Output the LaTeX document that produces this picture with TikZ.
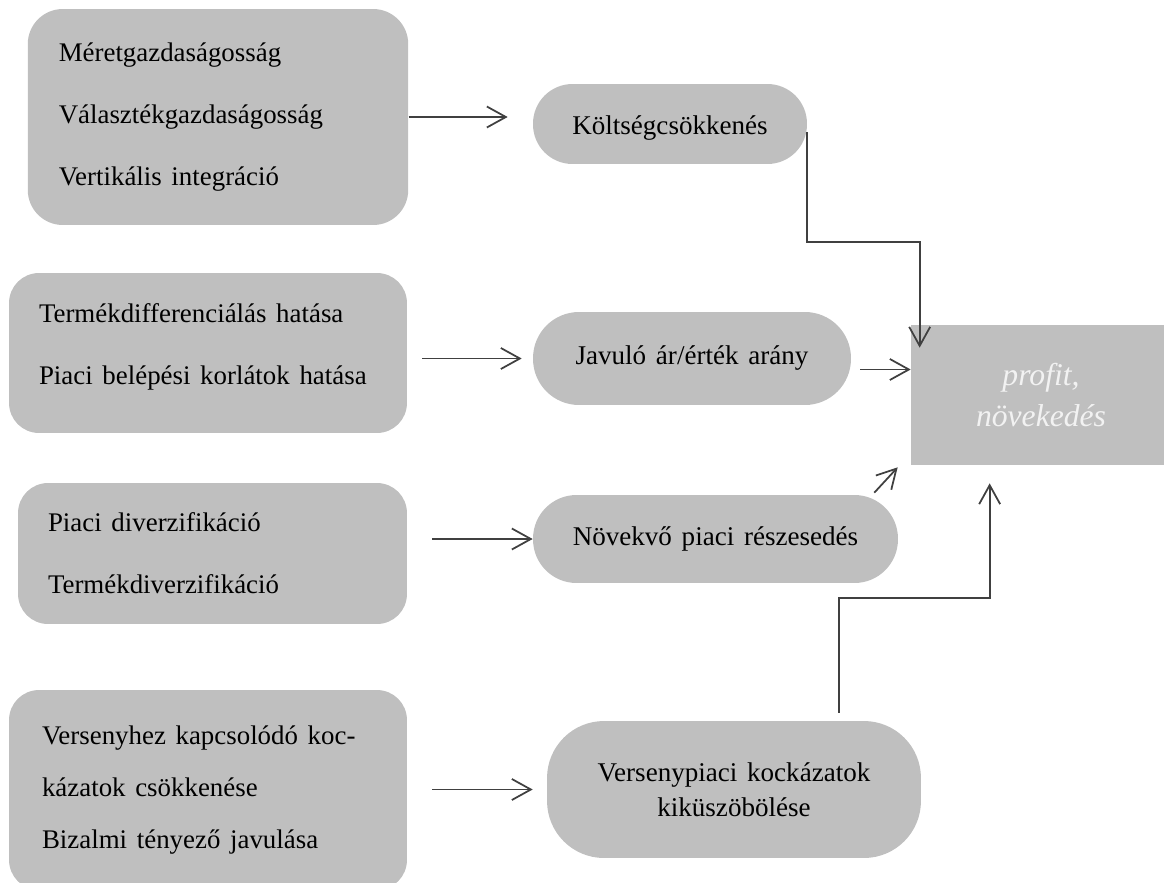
\documentclass[tikz,border=0pt]{standalone}
\usepackage{fontspec}
\setmainfont{Liberation Serif}
\usetikzlibrary{arrows.meta}
\definecolor{boxgray}{HTML}{BFBFBF}
\definecolor{linegray}{HTML}{404040}
\definecolor{txtlight}{HTML}{F2F2F2}
\newcommand{\wide}{\spaceskip=0.36em plus 0.1em\relax}

\begin{document}
\begin{tikzpicture}[x=0.02cm, y=-0.02cm,
		srcbox/.style={fill=boxgray, rounded corners=0.6cm, align=flush left, inner sep=0pt,
			font=\fontsize{15.3}{35.3}\selectfont\wide},
		pill/.style={fill=boxgray, align=center, inner sep=0pt,
			font=\fontsize{15.4}{20}\selectfont\wide},
		arr/.style={draw=linegray, line width=1pt,
			-{Straight Barb[length=0.38cm, width=0.42cm]}}]
	\useasboundingbox (0,0) rectangle (1164,883);
	\clip (0,0) rectangle (1164,883);
	% causes
	\node[srcbox, rounded corners=0.7cm, minimum width=7.61cm, minimum height=4.32cm, text width=6.37cm] (src1) at (218,117)
		{Méretgazdaságosság\\ Választékgazdaságosság\\ Vertikális integráció};
	\node[srcbox, minimum width=7.96cm, minimum height=3.2cm, text width=6.76cm, text depth=1.6cm] (src2) at (208,353)
		{Termékdifferenciálás hatása\\ Piaci belépési korlátok hatása};
	\node[srcbox, minimum width=7.78cm, minimum height=2.82cm, text width=6.58cm] (src3) at (212.5,553.5)
		{Piaci diverzifikáció\\ Termékdiverzifikáció};
	\node[srcbox, font=\fontsize{15.3}{29.5}\selectfont\wide, minimum width=7.96cm, minimum height=4cm, text width=6.64cm, text depth=2.2cm] (src4) at (208,790)
		{Versenyhez kapcsolódó koc-\\ kázatok csökkenése\\ Bizalmi tényező javulása};
	% effects
	\node[pill, rounded corners=0.79cm, minimum width=5.48cm, minimum height=1.6cm, text height=0.55cm] (n1) at (670,124) {Költségcsökkenés};
	\node[pill, rounded corners=0.92cm, minimum width=6.36cm, minimum height=1.86cm] (n2) at (692,358.5) {Javuló ár/érték arány};
	\node[pill, rounded corners=0.87cm, minimum width=7.3cm, minimum height=1.76cm] (n3) at (715.5,539) {Növekvő piaci részesedés};
	\node[pill, rounded corners=1.14cm, minimum width=7.48cm, minimum height=2.74cm] (n4) at (734,789.5)
		{Versenypiaci kockázatok\\ kiküszöbölése};
	\node[fill=boxgray, text=txtlight, align=center, inner sep=0pt, minimum width=5.2cm, minimum height=2.8cm,
		font=\itshape\fontsize{18}{23.8}\selectfont] (prof) at (1041,395) {profit,\\ növekedés};
	% connectors
	\draw[arr, shorten >=0.5cm] (src1.east) -- (src1.east -| n1.west);
	\draw[arr, shorten <=0.3cm, shorten >=0.22cm] (src2.east |- n2.west) -- (n2.west);
	\draw[arr, shorten <=0.5cm] (src3.east |- n3.west) -- (n3.west);
	\draw[arr, shorten <=0.5cm, shorten >=0.28cm] (src4.east |- n4.west) -- (n4.west);
	\draw[arr] ([yshift=-0.16cm]n1.east) -- ++(0,-2.2cm) -| ([xshift=0.18cm, yshift=-0.46cm]prof.north west);
	\coordinate (a3) at ([xshift=0.18cm, yshift=-0.22cm]n2.east);
	\draw[arr] (a3) -- (a3 -| prof.west);
	\draw[arr] ([xshift=-0.48cm, yshift=0.04cm]n3.north east) -- ([xshift=-0.26cm, yshift=-0.04cm]prof.south west);
	\draw[arr] ([xshift=2.1cm, yshift=0.16cm]n4.north) -- ++(0,2.3cm) -| ([xshift=1.58cm, yshift=-0.36cm]prof.south west);
\end{tikzpicture}
\end{document}
